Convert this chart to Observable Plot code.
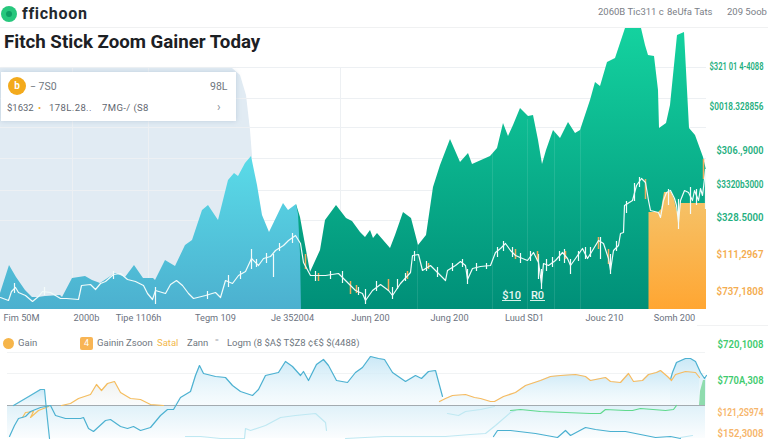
<!DOCTYPE html>
<html><head><meta charset="utf-8">
<script src="https://cdn.jsdelivr.net/npm/d3@7"></script>
<script src="https://cdn.jsdelivr.net/npm/@observablehq/plot@0.6"></script>
<style>
html,body{margin:0;padding:0;background:#fff;width:768px;height:439px;overflow:hidden;font-family:Roboto,sans-serif;color:#6b7280}
.abs{position:absolute;white-space:nowrap}
svg{display:block}
</style></head><body>
<div class="abs" style="left:0;top:27px;width:768px;border-top:1px solid #f0f1f2"></div>
<div class="abs" style="left:1px;top:6px;width:16px;height:16px;border-radius:50%;background:#27c77d"></div>
<div class="abs" style="left:6px;top:11px;width:6px;height:6px;border-radius:50%;background:#0f9d63"></div>
<div class="abs" style="left:22px;top:4px;font:700 16px Roboto;letter-spacing:.7px;color:#23292e">ffichoon</div>
<div class="abs" style="left:598px;top:6px;font:9.5px Roboto;color:#7b8087">2060B Tic311 c</div>
<div class="abs" style="left:667px;top:6px;font:9.5px Roboto;color:#7b8087">8eUfa Tats</div>
<div class="abs" style="left:727px;top:6px;font:9.5px Roboto;color:#7b8087">209 5oob</div>
<div class="abs" style="left:4px;top:31px;font:700 18.7px Roboto;color:#1c2024">Fitch Stick Zoom Gainer Today</div>
<div id="main" class="abs" style="left:0;top:28px"></div>
<div id="lower" class="abs" style="left:0;top:332px"></div>
<div class="abs" style="left:1px;top:72px;width:235px;height:49px;background:#fff;box-shadow:0 0 5px rgba(120,150,180,.35)"></div>
<div class="abs" style="left:8px;top:77px;width:18px;height:18px;border-radius:50%;background:#f3aa1c;color:#fff;font:700 10px/18px Roboto;text-align:center">b</div>
<div class="abs" style="left:30px;top:80px;font:10.5px Roboto;color:#6f7780">− 7S0</div>
<div class="abs" style="left:210px;top:80px;font:10.5px Roboto;color:#6f7780">98L</div>
<div class="abs" style="left:7px;top:102px;font:9.5px Roboto;color:#5f6770">$1632</div>
<div class="abs" style="left:38px;top:102px;font:9.5px Roboto;color:#f3aa1c">•</div>
<div class="abs" style="left:49px;top:102px;font:9.5px Roboto;color:#5f6770;letter-spacing:.4px">178L.28..</div>
<div class="abs" style="left:102px;top:102px;font:9.5px Roboto;color:#5f6770;letter-spacing:.4px">7MG-/ (S8</div>
<div class="abs" style="left:217px;top:100px;font:12px Roboto;color:#8a9198">›</div>
<div class="abs" style="left:3px;top:338px;width:11px;height:11px;border-radius:50%;background:#f6b54a"></div>
<div class="abs" style="left:18px;top:337px;font:9.5px Roboto;color:#6f7780">Gain</div>
<div class="abs" style="left:80px;top:337px;width:13px;height:13px;border-radius:2px;background:#f8b555;color:#fff;font:9px/13px Roboto;text-align:center">4</div>
<div class="abs" style="left:97px;top:337px;font:9.5px Roboto;color:#6f7780">Gainin Zsoon</div>
<div class="abs" style="left:157px;top:337px;font:9.5px Roboto;color:#f2b84b">Satal</div>
<div class="abs" style="left:187px;top:337px;font:9.5px Roboto;color:#6f7780">Zann</div>
<div class="abs" style="left:215px;top:336px;font:10px Roboto;color:#a0a6ab">⁼</div>
<div class="abs" style="left:227px;top:337px;font:9.5px Roboto;color:#6f7780">Logm (8 $A$ T$Z8 ¢€$ $(4488)</div>
<div class="abs" style="left:697px;top:325px;width:71px;border-top:1px solid #f1f2f3"></div>
<script>
const panel=[[0,241],[232,241],[240,234],[246,214],[250,179],[252,153],[252,0]];
const blueArea=[[0,16],[9,44],[16,32],[25,19],[32,12],[38,12],[45,13],[60,14],[62,12],[72,31],[85,33],[92,29],[100,26],[115,36],[125,32],[134,44],[143,31],[153,31],[155,29],[165,49],[175,43],[185,64],[192,69],[202,99],[208,104],[218,89],[228,129],[234,136],[238,133],[245,146],[251,153],[257,124],[262,94],[269,77],[283,106],[288,99],[296,105],[298,95],[300,55],[301,0]];
const tealArea=[[296,105],[300,92],[306,59],[310,37],[320,59],[325,89],[336,104],[346,91],[352,88],[360,77],[365,72],[370,79],[373,71],[377,76],[390,61],[395,74],[403,97],[411,91],[418,64],[426,74],[433,122],[440,144],[450,170],[460,147],[468,156],[472,145],[490,153],[497,161],[503,186],[508,173],[513,184],[520,201],[528,193],[533,194],[538,169],[542,145],[546,159],[553,179],[560,171],[568,187],[575,176],[580,179],[590,209],[595,227],[600,223],[607,247],[615,251],[625,281],[641,281],[645,264],[648,254],[654,253],[658,219],[659,181],[666,186],[670,204],[677,274],[684,277],[689,181],[695,174],[703,152],[706,139]];
const orangeArea=[[648.5,97],[658,97],[661,100],[664,117],[671,117],[674,110],[677,97],[679,100],[680,106],[706,106]];
const priceLine=[[0,12],[8,9],[11,18],[15,22],[18,17],[25,14],[32,8],[38,13],[42,18],[50,17],[60,11],[66,11],[78,10],[81,24],[90,25],[95,20],[100,26],[105,28],[113,35],[120,36],[127,30],[135,28],[143,24],[147,16],[152,10],[155,19],[165,16],[170,25],[176,29],[182,24],[188,16],[193,11],[205,14],[215,17],[220,12],[225,29],[232,26],[238,34],[245,38],[251,51],[258,44],[263,51],[270,53],[275,59],[283,64],[288,69],[295,74],[300,66],[303,47],[310,34],[318,34],[325,34],[338,36],[345,29],[350,24],[355,19],[362,16],[365,9],[372,19],[380,25],[388,19],[392,14],[400,26],[410,37],[412,54],[418,55],[422,39],[430,44],[440,34],[445,29],[447,39],[455,44],[460,48],[465,44],[467,30],[472,41],[480,43],[490,44],[495,57],[500,61],[505,66],[510,59],[515,54],[522,51],[527,49],[533,57],[538,47],[541,26],[543,46],[548,44],[555,49],[562,57],[567,51],[570,44],[575,51],[582,61],[587,51],[592,59],[598,69],[603,66],[608,51],[610,39],[613,59],[618,64],[620,76],[623,77],[624,104],[632,109],[636,124],[641,131],[645,127],[648,109],[650,99],[658,97],[660,92],[663,109],[666,117],[670,119],[674,111],[676,104],[678,87],[680,109],[684,119],[688,117],[692,109],[694,119],[698,109],[700,121],[702,114],[705,139]];
const whiteWicks=[[14,16,26],[44,14,22],[113,30,38],[155,5,22],[207,10,18],[228,22,34],[240,30,38],[251,40,60],[256,42,50],[266,46,56],[273,32,55],[279,58,66],[292,66,76],[315,28,38],[330,30,38],[342,26,38],[358,14,22],[365,5,20],[376,18,28],[392,10,22],[397,20,30],[405,28,36],[414,48,58],[426,38,48],[437,32,42],[452,38,46],[462,42,50],[467,25,40],[476,38,46],[486,40,46],[497,52,62],[503,58,68],[512,52,62],[520,46,56],[530,48,58],[538,30,55],[541,20,40],[546,38,50],[552,42,52],[559,48,58],[564,46,60],[570,35,50],[578,48,58],[585,50,62],[590,52,62],[600,50,72],[610,35,55],[616,58,68],[626,96,108],[634,108,126],[639,122,132],[668,104,120],[678,80,110],[690,95,122],[696,104,120],[705,100,140]];
const orangeWicks=[[305,40,55],[318,28,36],[350,15,28],[356,16,24],[388,18,30],[407,30,38],[428,40,46],[515,50,60],[537,48,58],[565,50,58],[598,60,72],[608,45,60],[645,110,130],[703,130,150]];
const gridLevels=[242,211,182,151,119,89];
const gridSessions=[72,148,340];
const tealSessions=[417,492,527,554,580,652];
const xTickAt=[21,86,138,215,292,370,449,524,604,674];
const xTickText=["Fim 50M","2000b","Tipe 1106h","Tegm 109","Je 352004","Junη 200","Jung 200","Luud SD1","Jouc 210","Somh 200"];
const rightLevels=[243,203,159,125,92,55,18];
const rightText=["$321 01 4-4088","$0018.328856","$306.,9000","$3320b3000","$328.5000","$111,2967","$737,1808"];
const rightColor=["#1faf80","#1faf80","#1faf80","#1faf80","#1faf80","#f4ad50","#f4ad50"];
const rightFit=[54,54,47,47,47,47,47];
const noteText=[[511,14,"$10"],[537,14,"R0"]];
const noteRule=[[502,521],[530,545]];

const blueA=[[13,0],[30,10],[40,16],[44,16],[46,-5],[49,-33]];
const orangeA=[[61,0],[70,2],[78,7],[90,11],[96,21],[101,15],[107,22],[114,24],[120,13],[130,7],[140,6],[150,1],[163,0]];
const orangeSmall=[[22,-12],[25,-7],[33,-6],[30,-12],[38,-5],[48,-1]];
const blueB=[[9,-31],[14,-20],[18,-13],[25,-11],[30,-6],[40,-2],[50,0],[55,-10],[65,-13],[80,-13],[83,-12],[88,-23],[93,-26],[105,-15],[110,-14],[120,-21],[127,-23],[133,-21],[140,-25],[150,-22],[160,-10],[167,-4],[173,-4],[180,8],[190,14],[195,30],[199,40],[203,32],[215,29],[225,28],[232,20],[240,14],[252,10],[258,16],[265,30],[278,33],[285,44],[292,39],[300,30],[303,34],[308,25],[316,41],[323,46],[328,40],[336,25],[347,23],[355,33],[362,38],[370,49],[378,47],[384,46],[392,33],[405,24],[415,30],[421,27],[428,34],[435,35],[442,9]];
const orangeB=[[439,4],[445,7],[452,10],[465,11],[474,8],[480,7],[490,4],[494,4],[503,9],[515,13],[525,20],[540,25],[550,29],[560,30],[575,31],[585,29],[590,25],[600,27],[605,28],[610,24],[620,23],[628,32],[633,24],[642,25],[648,31],[656,33],[660,35],[667,29],[671,25],[675,31],[685,34],[695,33],[699,28]];
const blueC=[[670,26],[672,33],[676,43],[685,47],[690,47],[695,44],[700,33],[704,27],[706,30]];
const greenBar=[[699,0],[700,14],[703,25],[705,25]];
const cyanA=[[185,-31],[200,-31],[220,-33],[244,-33],[245,-23],[250,-25],[265,-20],[280,-12],[295,-10],[315,-8],[325,-17],[326,-25]];
const cyanB=[[345,-33],[384,-31],[420,-31],[445,-31],[470,-29],[485,-28],[495,-20],[510,-7],[515,-5]];
const cyanC=[[447,-8],[458,-10],[465,-6],[480,-4],[494,-1]];
const greenLine=[[510,-5],[520,-4],[540,-6],[565,-7],[590,-8],[600,-8],[605,-4],[625,-5],[632,-5],[640,-3],[665,-5],[673,-4],[676,0]];
const blueD=[[493,-31],[497,-25],[510,-25],[535,-28],[557,-32],[565,-25],[570,-30],[585,-22],[595,-24],[610,-26],[625,-26],[640,-29],[655,-32],[670,-31],[680,-33]];
const cyanD=[[680,-32],[692,-30]];
const lowerBand=[[7,705]];
const lowerGrid=[53,32];
const lowerLevels=[61,25,-7,-28];
const lowerText=["$720,1008","$770A,308","$121,2S974","$152,3008"];
const lowerColor=["#3ecb6e","#3ecb6e","#f6b56a","#f6b56a"];
const lowerFit=[46,46,46,46];

function defs(list){
  return ()=>{
    const ns="http://www.w3.org/2000/svg";
    const d=document.createElementNS(ns,"defs");
    for(const [id,top,topO,bot,botO] of list){
      const g=document.createElementNS(ns,"linearGradient");
      g.setAttribute("id",id);g.setAttribute("x1",0);g.setAttribute("x2",0);g.setAttribute("y1",0);g.setAttribute("y2",1);
      [[0,top,topO],[1,bot,botO]].forEach(([o,c,a])=>{
        const s=document.createElementNS(ns,"stop");
        s.setAttribute("offset",o);s.setAttribute("stop-color",c);s.setAttribute("stop-opacity",a);g.appendChild(s);
      });
      d.appendChild(g);
    }
    return d;
  };
}
// Narrow the right-hand labels horizontally, keeping their right edge in place.
function fitTexts(svg,texts,widths){
  svg.querySelectorAll("text").forEach(t=>{
    const i=texts.indexOf(t.textContent);
    if(i<0) return;
    const s=Math.min(1,widths[i]/t.getComputedTextLength());
    const old=t.getAttribute("transform")||"";
    const ax=t.getAttribute("x");
    if(ax!==null){
      t.setAttribute("transform",`${old} translate(${ax},0) scale(${s},1) translate(${-ax},0)`);
    }else{
      t.setAttribute("transform",`${old} scale(${s},1)`);
    }
  });
}
const X=d=>d[0],V=d=>d[1];
const mainPlot=Plot.plot({
  width:768,height:304,marginTop:0,marginRight:0,marginBottom:23,marginLeft:0,
  x:{domain:[0,768],axis:null},
  y:{domain:[0,281],axis:null},
  style:{background:"transparent",overflow:"visible"},
  marks:[
    defs([["gBlue","#5adbe8",1,"#4cb0cf",1],["gTeal","#14d29f",1,"#008f78",1],["gOrange","#f5c46c",1,"#ffa632",1]]),
    Plot.areaY(panel,{x:X,y:V,fill:"#e1ebf3"}),
    Plot.ruleY(gridLevels,{stroke:"#edf0f3",x1:0,x2:706}),
    Plot.ruleX(gridSessions,{stroke:"#edf0f3",y1:0,y2:241}),
    Plot.areaY(tealArea,{x:X,y:V,fill:"url(#gTeal)"}),
    Plot.areaY(blueArea,{x:X,y:V,fill:"url(#gBlue)"}),
    Plot.ruleX(tealSessions,{stroke:"#fff",strokeOpacity:.1,y1:0,y2:d=>d>640?97:190}),
    Plot.areaY(orangeArea,{x:X,y:V,fill:"url(#gOrange)"}),
    Plot.ruleX(whiteWicks,{x:X,y1:d=>d[1],y2:d=>d[2],stroke:"#f4fbfa",strokeWidth:1.2}),
    Plot.ruleX(orangeWicks,{x:X,y1:d=>d[1],y2:d=>d[2],stroke:"#f2ad5f",strokeWidth:1.5}),
    Plot.line(priceLine,{x:X,y:V,stroke:"#f1fbfa",strokeWidth:1.2}),
    Plot.text(noteText,{x:X,y:V,text:d=>d[2],fill:"#e9f7f3",fontSize:11,fontWeight:500}),
    Plot.ruleY(noteRule,{x1:d=>d[0],x2:d=>d[1],y:9,stroke:"#d5f0e8"}),
    Plot.text(rightText,{x:763,y:(d,i)=>rightLevels[i],text:d=>d,textAnchor:"end",fill:(d,i)=>rightColor[i],fontSize:10,fontWeight:600}),
    Plot.axisX({ticks:xTickAt,tickSize:0,tickPadding:5,tickFormat:(d,i)=>xTickText[i],fontSize:9.2,fill:"#6b7280"})
  ]
});
mainPlot.style.fontFamily="Roboto";
document.getElementById("main").append(mainPlot);
fitTexts(mainPlot,rightText,rightFit);

const line=(data,stroke,w=1.2)=>Plot.line(data,{x:X,y:V,stroke,strokeWidth:w});
const lowerPlot=Plot.plot({
  width:768,height:107,marginTop:0,marginRight:0,marginBottom:0,marginLeft:0,
  x:{domain:[0,768],axis:null},
  y:{domain:[-34,73],axis:null},
  style:{background:"transparent",overflow:"visible"},
  marks:[
    defs([["gPale","#c7e7f6",.95,"#eef8fc",.5],["gBand","#dff1f9",1,"#fbfdfe",1],["gWarm","#eef0ee",.9,"#f6f8f8",.5]]),
    Plot.ruleY(lowerGrid,{stroke:"#f1f3f4",x1:7,x2:705}),
    Plot.rect(lowerBand,{x1:X,x2:V,y1:-33,y2:0,fill:"url(#gBand)"}),
    Plot.areaY(blueA.slice(0,5),{x:X,y:V,fill:"url(#gPale)"}),
    Plot.areaY(orangeA,{x:X,y:V,fill:"url(#gWarm)"}),
    Plot.areaY(blueB.filter(d=>d[0]>=173),{x:X,y:d=>Math.max(d[1],0),fill:"url(#gPale)"}),
    Plot.areaY(orangeB,{x:X,y:V,fill:"url(#gPale)"}),
    Plot.areaY(blueC,{x:X,y:V,fill:"url(#gPale)"}),
    Plot.areaY(greenBar,{x:X,y:V,fill:"#8fdcae"}),
    Plot.ruleY([0],{stroke:"#a3abb0",strokeWidth:1.2,x1:7,x2:705}),
    line(cyanA,"#bfe8f2"),line(cyanB,"#bfe8f2"),line(cyanC,"#bfe8f2"),line(cyanD,"#bfe8f2"),
    line(greenLine,"#5fd98d"),
    line(blueD,"#4ab0d0"),
    line(orangeSmall,"#f5c05e"),
    line(orangeA,"#f5bd5e"),
    line(blueA,"#52b5d3"),
    line(blueB,"#4cb1d1"),
    line(blueC,"#4cb1d1"),
    line(orangeB,"#f7bb60"),
    Plot.text(lowerText,{x:763,y:(d,i)=>lowerLevels[i],text:d=>d,textAnchor:"end",fill:(d,i)=>lowerColor[i],fontSize:10,fontWeight:600})
  ]
});
lowerPlot.style.fontFamily="Roboto";
document.getElementById("lower").append(lowerPlot);
fitTexts(lowerPlot,lowerText,lowerFit);
</script>
</body></html>
